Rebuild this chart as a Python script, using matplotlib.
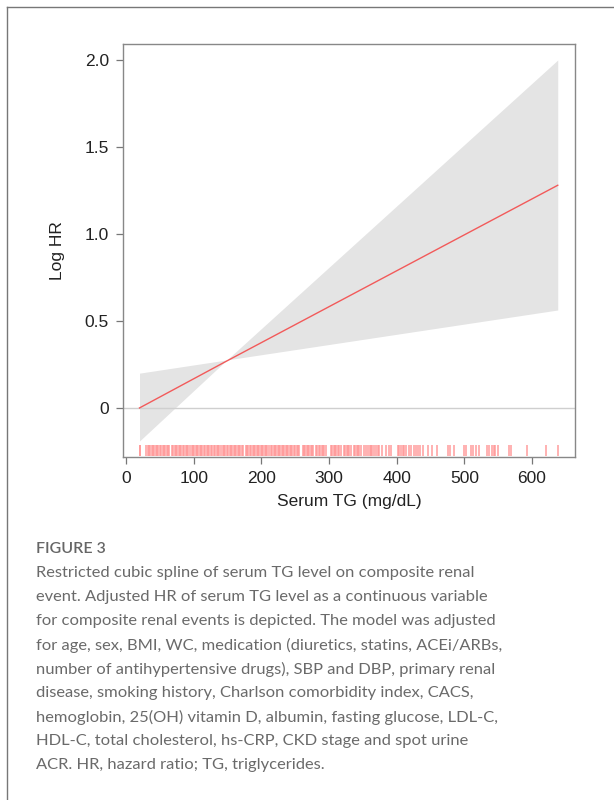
"""
Restricted cubic spline of serum TG on composite renal events (log HR).
"""

import matplotlib
matplotlib.use('Agg')
import matplotlib.pyplot as plt
from matplotlib.lines import Line2D

# spline fit and 95% band
tg_knots = [20, 149, 638]
log_hr = [0.0, 0.27, 1.28]
ci_upper = [0.20, 0.276, 2.00]
ci_lower = [-0.19, 0.276, 0.563]

# rug: observed serum TG values
rug_tg = [
    20, 21,
    30, 32, 34, 36, 38, 40, 42, 44, 46, 48, 50, 52, 54, 56, 58, 60, 62, 64,
    68, 70, 72, 74, 76, 78, 80, 82, 84, 86, 88, 90, 92, 95, 97, 99, 101,
    103, 105, 107, 109, 111, 113, 115, 117, 119, 121, 123, 125, 127, 130,
    132, 134, 136, 138, 140, 143, 145, 147, 149, 151, 153, 155, 157, 159,
    161, 163, 165, 167, 169, 171, 173, 177, 179, 181, 183, 185, 187, 189,
    191, 193, 195, 197, 199, 201, 203, 205, 207, 209, 211, 214, 216, 218,
    220, 222, 224, 226, 228, 230, 232, 234, 236, 238, 240, 242, 244, 246,
    248, 250, 252, 254, 256, 261, 263, 265, 267, 269, 271, 273, 275, 277,
    281, 283, 285, 287, 289, 291, 293, 295, 303, 305, 307, 309, 311, 313,
    315, 317, 322, 324, 326, 328, 330, 332, 337, 339, 341, 343, 345, 347,
    352, 354, 358, 360, 362, 364, 367, 370, 372, 374,
    378, 384, 388, 391,
    402, 404, 406, 409, 411, 414, 418, 421, 425, 428, 431, 434, 439, 446,
    452, 460, 476, 479, 484, 500, 502, 510, 513, 517, 522, 534, 537, 541,
    544, 546, 549, 566, 569, 592, 621, 639,
]

x_ticks = [0, 100, 200, 300, 400, 500, 600]
y_ticks = [0, 0.5, 1.0, 1.5, 2.0]
y_tick_labels = ['0', '0.5', '1.0', '1.5', '2.0']

caption_title = 'FIGURE 3'
caption_lines = [
    'Restricted cubic spline of serum TG level on composite renal',
    'event. Adjusted HR of serum TG level as a continuous variable',
    'for composite renal events is depicted. The model was adjusted',
    'for age, sex, BMI, WC, medication (diuretics, statins, ACEi/ARBs,',
    'number of antihypertensive drugs), SBP and DBP, primary renal',
    'disease, smoking history, Charlson comorbidity index, CACS,',
    'hemoglobin, 25(OH) vitamin D, albumin, fasting glucose, LDL-C,',
    'HDL-C, total cholesterol, hs-CRP, CKD stage and spot urine',
    'ACR. HR, hazard ratio; TG, triglycerides.',
]

W, H = 614, 800
fig = plt.figure(figsize=(W / 100, H / 100), dpi=100)
fig.patch.set_facecolor('white')

# axes box in pixel coordinates: left 123, top 44, right 575, bottom 457
ax = fig.add_axes([123 / W, 1 - 457 / H, 452 / W, 413 / H])
ax.set_xlim(-4.4, 663.5)
ax.set_ylim(-0.282, 2.092)

ax.fill_between(tg_knots, ci_lower, ci_upper, color='#e4e4e4', lw=0, zorder=1)
ax.axhline(0, color='#cfcfcf', lw=1.0, zorder=2)
ax.plot(tg_knots, log_hr, color='#f25a5a', lw=1.0, zorder=3)
ax.vlines(rug_tg, -0.275, -0.215, color='#ff9494', alpha=0.75, lw=1.35, zorder=2)

tick_font = dict(family=['Liberation Sans', 'DejaVu Sans'], size=12.5, color='#222222')
ax.set_xticks(x_ticks)
ax.set_xticklabels([str(t) for t in x_ticks], **tick_font)
ax.set_yticks(y_ticks)
ax.set_yticklabels(y_tick_labels, **tick_font)
ax.tick_params(direction='out', length=5, width=0.9, color='#777777', pad=5)
for spine in ax.spines.values():
    spine.set_edgecolor('#888888')
    spine.set_linewidth(1.0)

ax.set_xlabel('Serum TG (mg/dL)', family=['Liberation Sans', 'DejaVu Sans'],
              size=12.5, color='#222222', labelpad=6)
ax.set_ylabel('Log HR', family=['Liberation Sans', 'DejaVu Sans'],
              size=12.5, color='#222222', labelpad=14)

# outer frame (top and left edges are visible in the crop)
fig.add_artist(Line2D([7 / W, 7 / W], [0, 1 - 7 / H], transform=fig.transFigure,
                      color='#777777', lw=1.0))
fig.add_artist(Line2D([7 / W, 1], [1 - 7 / H, 1 - 7 / H], transform=fig.transFigure,
                      color='#777777', lw=1.0))

# caption
cap_font = ['Lato', 'DejaVu Sans']
fig.text(36 / W, 1 - 549 / H, caption_title, family=cap_font, size=11.5,
         color='#666666', va='center', ha='left', weight='semibold')
for i, line in enumerate(caption_lines):
    fig.text(36 / W, 1 - (573 + 24 * i) / H, line, family=cap_font, size=11.85,
             color='#6a6a6a', va='center', ha='left')

fig.savefig('out.png', dpi=100, facecolor='white')
